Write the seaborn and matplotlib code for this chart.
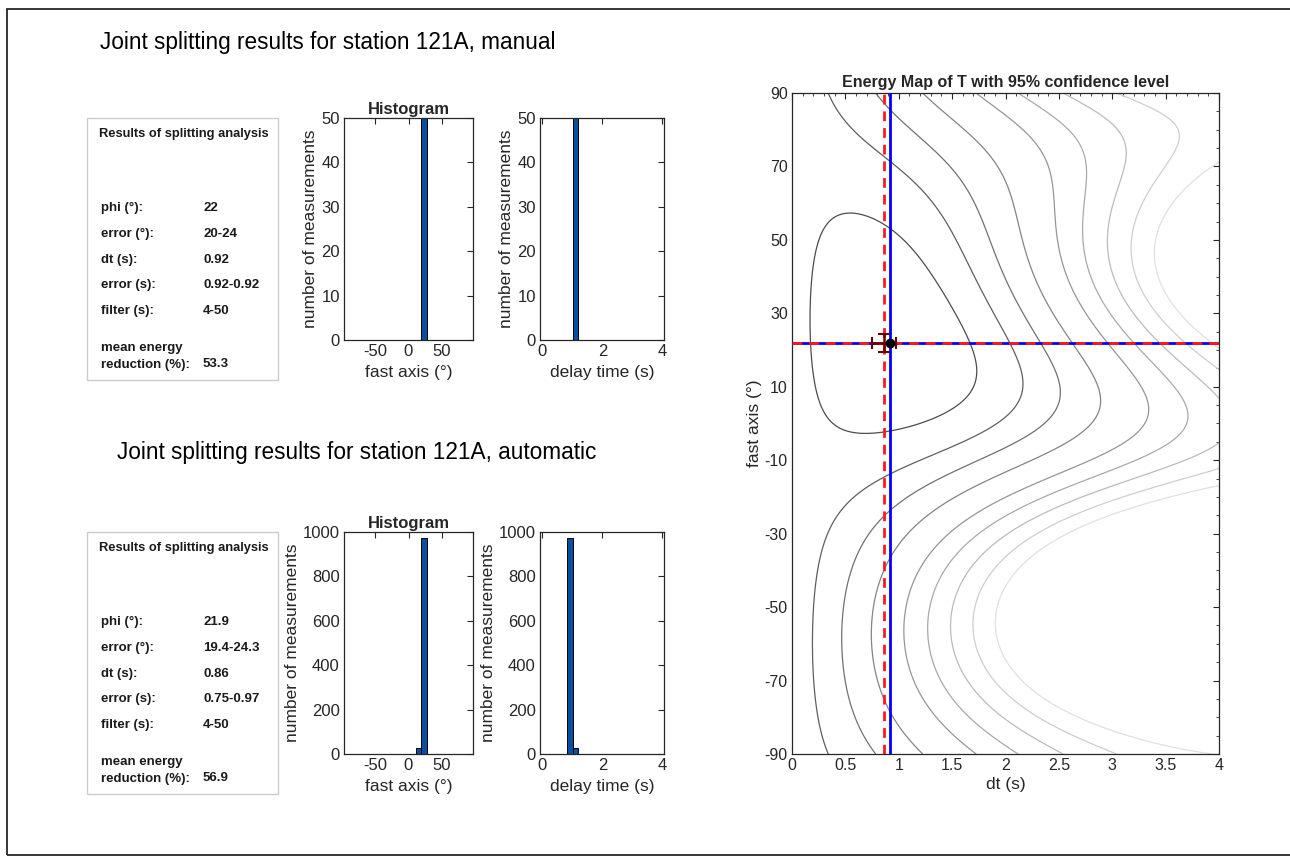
import numpy as np
import matplotlib
matplotlib.use("Agg")
import matplotlib.pyplot as plt
from matplotlib.patches import Rectangle
import seaborn as sns

sns.set_style("white")
plt.rcParams['font.family'] = ['Liberation Sans', 'DejaVu Sans']
plt.rcParams['axes.edgecolor'] = '0.15'
plt.rcParams['xtick.color'] = '0.15'
plt.rcParams['ytick.color'] = '0.15'
plt.rcParams['axes.labelcolor'] = '0.15'
plt.rcParams['axes.unicode_minus'] = False

# ---------------- data ----------------
station = "121A"
result_labels = ["phi (°):", "error (°):", "dt (s):", "error (s):", "filter (s):"]
manual_values = ["22", "20-24", "0.92", "0.92-0.92", "4-50"]
auto_values = ["21.9", "19.4-24.3", "0.86", "0.75-0.97", "4-50"]
manual_energy_red = "53.3"
auto_energy_red = "56.9"

fast_bin_edges = [11.0, 19.5, 27.5]
fast_counts_manual = [0, 50]
fast_counts_auto = [28, 973]
delay_bin_edges = [0.66, 0.835, 1.01, 1.185]
delay_counts_manual = [0, 0, 50]
delay_counts_auto = [2, 975, 25]

# joint splitting result (manual = blue, automatic = red)
phi_manual, dt_manual = 22.0, 0.92
phi_auto, dt_auto = 21.9, 0.86
phi_auto_err = [19.4, 24.3]
dt_auto_err = [0.75, 0.97]

# energy map model parameters
event_polarizations = [10.0, 155.0]   # deg
dominant_period = 10.0                # s
# one point read on each of the five darkest contour lines (dt, phi)
contour_anchors = [(1.73, 15), (2.15, 14), (2.51, 10), (2.89, 7), (3.34, 3)]
n_light_contours = 4


def transverse_energy(dt, phi):
    w = 2 * np.pi / dominant_period
    th = np.deg2rad(phi - phi_manual)
    a = np.exp(-1j * w * dt_manual)
    c = np.exp(1j * w * dt)
    E = 0
    for beta in event_polarizations:
        al = np.deg2rad(beta - phi_manual)
        A = np.cos(al) * np.cos(th) + a * np.sin(al) * np.sin(th)
        B = a * np.sin(al) * np.cos(th) - np.cos(al) * np.sin(th)
        E = E + np.abs(A * np.sin(th - al) + c * B * np.cos(th - al)) ** 2
    return E


# ---------------- figure ----------------
W, H = 1290, 857
fig = plt.figure(figsize=(W / 100, H / 100), dpi=100)


def px_axes(left, top, right, bottom):
    return fig.add_axes([left / W, 1 - bottom / H, (right - left) / W, (bottom - top) / H])


def style_axes(ax, minor=False):
    for s in ax.spines.values():
        s.set_linewidth(0.9)
        s.set_color('0.15')
    ax.tick_params(direction='in', top=True, right=True, length=4, width=0.8,
                   labelsize=12, pad=3)
    if minor:
        ax.tick_params(which='minor', direction='in', top=True, right=True,
                       length=2.5, width=0.6)


# outer border
fig.patches.append(Rectangle((7 / W, 1 - 855 / H), 1.05, (855 - 9) / H,
                             transform=fig.transFigure, fill=False,
                             edgecolor='0.15', linewidth=1.3))

bar_color = '#0650a3'

blocks = [
    (0, 43, "manual", manual_values, manual_energy_red, fast_counts_manual, delay_counts_manual, 50, 10, 100),
    (414, 452, "automatic", auto_values, auto_energy_red, fast_counts_auto, delay_counts_auto, 1000, 200, 117),
]
for off, ty, kind, values, ered, fcounts, dcounts, ymax, ystep, tx in blocks:
    fig.text(tx / W, 1 - ty / H,
             f"Joint splitting results for station {station}, {kind}",
             fontsize=16.3, va='center', ha='left', color='k')
    # results box
    fig.patches.append(Rectangle((87 / W, 1 - (380 + off) / H),
                                 (278 - 87) / W, 262 / H,
                                 transform=fig.transFigure, fill=False,
                                 edgecolor='0.8', linewidth=1.0))
    fig.text(99 / W, 1 - (134 + off) / H, "Results of splitting analysis",
             fontsize=9.3, fontweight='bold', va='center', ha='left', color='0.1')
    rows_y = [208, 234, 260, 285, 311]
    for lab, val, y in zip(result_labels, values, rows_y):
        fig.text(101 / W, 1 - (y + off) / H, lab, fontsize=9.5, fontweight='bold',
                 va='center', color='0.1')
        fig.text(203 / W, 1 - (y + off) / H, val, fontsize=9.5, fontweight='bold',
                 va='center', color='0.1')
    fig.text(101 / W, 1 - (348 + off) / H, "mean energy", fontsize=9.5,
             fontweight='bold', va='center', color='0.1')
    fig.text(101 / W, 1 - (365 + off) / H, "reduction (%):", fontsize=9.5,
             fontweight='bold', va='center', color='0.1')
    fig.text(203 / W, 1 - (364 + off) / H, ered, fontsize=9.5, fontweight='bold',
             va='center', color='0.1')

    # fast axis histogram
    ax1 = px_axes(344, 118 + off, 473, 340 + off)
    centers = 0.5 * (np.array(fast_bin_edges[:-1]) + np.array(fast_bin_edges[1:]))
    sns.histplot(x=centers, weights=fcounts, bins=fast_bin_edges, ax=ax1,
                 color=bar_color, edgecolor='k', linewidth=0.7, alpha=1)
    ax1.set_xlim(-97, 97)
    ax1.set_ylim(0, ymax)
    ax1.set_xticks([-50, 0, 50])
    ax1.set_yticks(np.arange(0, ymax + 1, ystep))
    ax1.set_xlabel("fast axis (°)", fontsize=12.5, labelpad=4)
    ax1.set_ylabel("number of measurements", fontsize=12.5, labelpad=2)
    ax1.set_title("Histogram", fontsize=12, fontweight='bold', pad=3)
    style_axes(ax1)

    # delay time histogram
    ax2 = px_axes(540, 118 + off, 664, 340 + off)
    centers = 0.5 * (np.array(delay_bin_edges[:-1]) + np.array(delay_bin_edges[1:]))
    sns.histplot(x=centers, weights=dcounts, bins=delay_bin_edges, ax=ax2,
                 color=bar_color, edgecolor='k', linewidth=0.7, alpha=1)
    ax2.set_xlim(-0.08, 4.05)
    ax2.set_ylim(0, ymax)
    ax2.set_xticks([0, 2, 4])
    ax2.set_yticks(np.arange(0, ymax + 1, ystep))
    ax2.set_xlabel("delay time (s)", fontsize=12.5, labelpad=4)
    ax2.set_ylabel("number of measurements", fontsize=12.5, labelpad=2)
    style_axes(ax2)

# ---------------- energy map ----------------
axm = px_axes(792, 93, 1219, 754)
dts = np.linspace(0, 4, 400)
phis = np.linspace(-90, 90, 500)
D, P = np.meshgrid(dts, phis)
E = transverse_energy(D, P)
levels = [float(transverse_energy(a[0], a[1])) for a in contour_anchors]
step = (levels[-1] - levels[0]) / (len(levels) - 1)
for k in range(1, n_light_contours + 1):
    if levels[4] + k * step < E.max():
        levels.append(levels[4] + k * step)
levels = sorted(levels)
greys = [str(0.3 + 0.58 * i / (len(levels) - 1)) for i in range(len(levels))]
axm.contour(D, P, E, levels=levels, colors=greys, linewidths=0.9)

axm.axvline(dt_manual, color='#0000ff', lw=2.0, zorder=3)
axm.axhline(phi_manual, color='#0000ff', lw=2.0, zorder=3)
axm.axvline(dt_auto, color='#ff1a1a', lw=2.0, ls=(0, (3.5, 2.5)), zorder=4)
axm.axhline(phi_auto, color='#ff1a1a', lw=2.0, ls=(0, (3.5, 2.5)), zorder=4)
axm.errorbar([dt_auto], [phi_auto],
             xerr=[[dt_auto - dt_auto_err[0]], [dt_auto_err[1] - dt_auto]],
             yerr=[[phi_auto - phi_auto_err[0]], [phi_auto_err[1] - phi_auto]],
             fmt='none', ecolor='#6b0000', elinewidth=1.8, capsize=4, capthick=1.5, zorder=5)
axm.plot([dt_manual], [phi_manual], 'o', color='k', ms=6, zorder=6)

axm.set_xlim(0, 4)
axm.set_ylim(-90, 90)
axm.set_xticks(np.arange(0, 4.01, 0.5))
axm.set_xticklabels(["0", "0.5", "1", "1.5", "2", "2.5", "3", "3.5", "4"])
axm.set_yticks(np.arange(-90, 91, 20))
axm.xaxis.set_minor_locator(matplotlib.ticker.MultipleLocator(0.1))
axm.yaxis.set_minor_locator(matplotlib.ticker.MultipleLocator(5))
axm.set_xlabel("dt (s)", fontsize=12.5, labelpad=3)
axm.set_ylabel("fast axis (°)", fontsize=12.5, labelpad=2)
axm.set_title("Energy Map of T with 95% confidence level", fontsize=11.5,
              fontweight='bold', pad=4)
style_axes(axm, minor=True)
axm.tick_params(labelsize=11.5)

fig.savefig("out.png", dpi=100)
